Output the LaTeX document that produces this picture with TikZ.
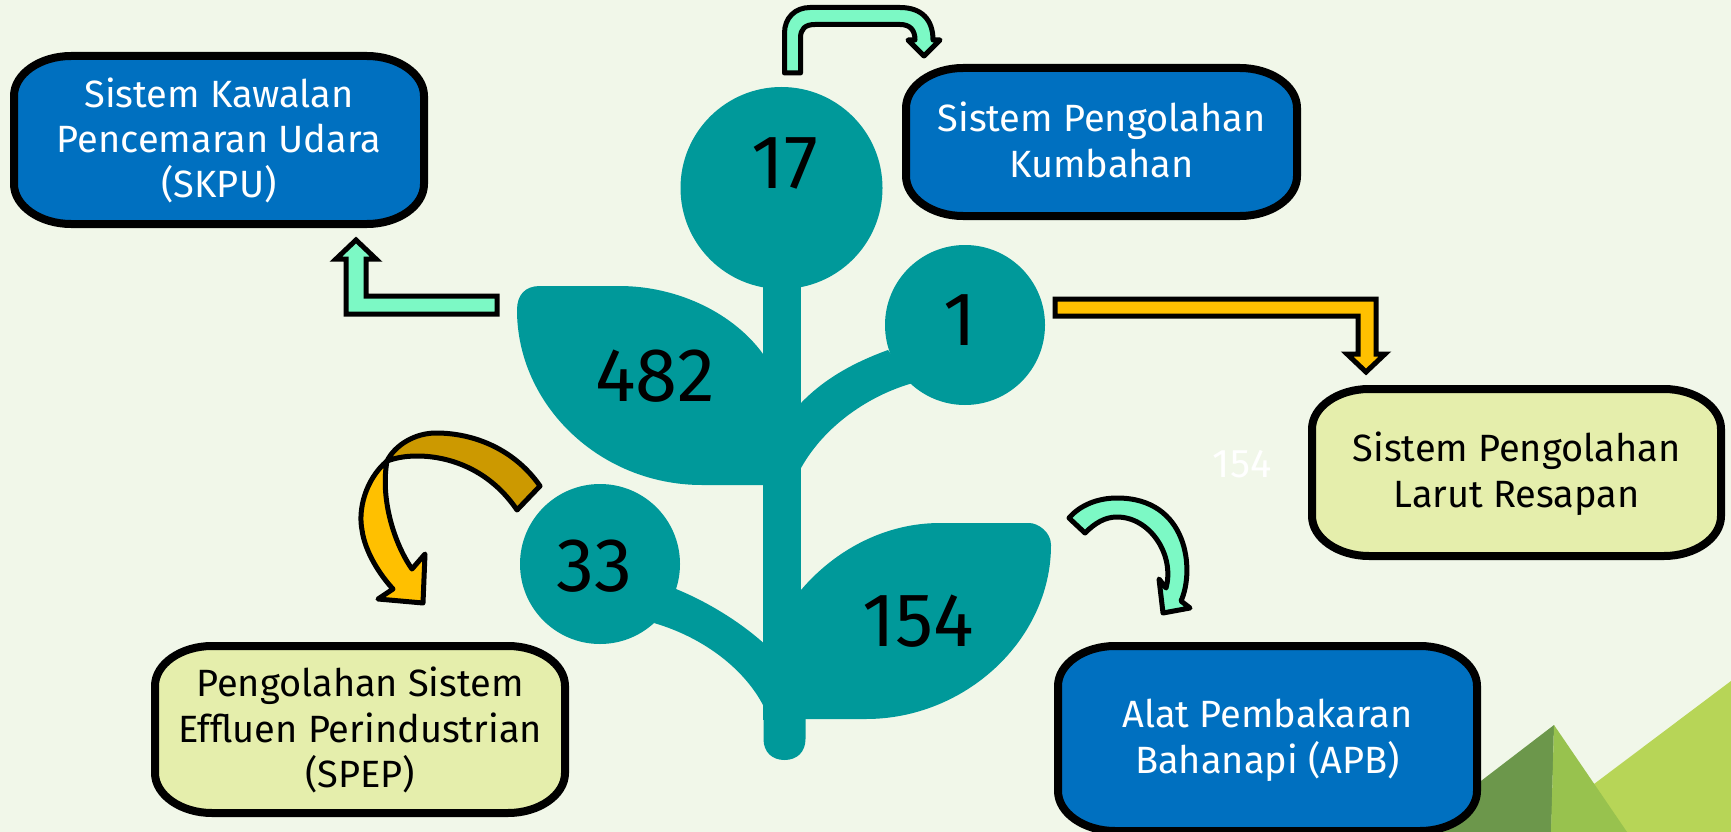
\documentclass[tikz,border=0pt]{standalone}
\usepackage{fontspec}
\setmainfont{Fira Sans}
\definecolor{bgc}{HTML}{F1F7E9}
\definecolor{blueb}{HTML}{0070C0}
\definecolor{yelb}{HTML}{E5EEAC}
\definecolor{tealc}{HTML}{00999A}
\definecolor{mintc}{HTML}{7CF9C5}
\definecolor{amberc}{HTML}{FFC000}
\definecolor{amberd}{HTML}{CC9900}
\definecolor{tridark}{HTML}{6C974B}
\definecolor{trimid}{HTML}{98C24E}
\definecolor{trilight}{HTML}{B7D557}
\tikzset{
  frame/.style={draw=black,line width=8pt},
  boxtext/.style={inner sep=0pt,outer sep=0pt,align=center,font=\fontsize{38}{45.3}\selectfont},
  plantpart/.style={fill=tealc,draw=none},
  numlabel/.style={font=\fontsize{76}{80}\selectfont,text=black,inner sep=0pt},
  ghostlabel/.style={font=\fontsize{40}{44}\selectfont,text=white,inner sep=0pt},
  blockarrow/.style={draw=black,line width=5pt,line join=miter},
  curvearrow/.style={draw=black,line width=5pt,line join=round},
}
\newcommand\topln{\rule{0pt}{32pt}}
\newcommand\botln{\rule[-7pt]{0pt}{7pt}}
% name, cx, cy, half width, half height, fill colour, text colour, text
\newcommand\ovalbox[8]{%
  \begin{scope}[shift={(#2,#3)}]
  \draw[frame,fill=#6] (-#4+57,-#5) -- (#4-57,-#5)
    .. controls (#4-26,-#5) and (#4,-#5+18) .. (#4,-#5+40) -- (#4,#5-40)
    .. controls (#4,#5-18) and (#4-26,#5) .. (#4-57,#5) -- (-#4+57,#5)
    .. controls (-#4+26,#5) and (-#4,#5-18) .. (-#4,#5-40) -- (-#4,-#5+40)
    .. controls (-#4,-#5+18) and (-#4+26,-#5) .. (-#4+57,-#5) -- cycle;
  \node[boxtext,text=#7] (#1) at (0,0) {#8};
  \end{scope}}
\begin{document}
\begin{tikzpicture}[x=1pt,y=-1pt]
\useasboundingbox (0,0) rectangle (1731,832);
\fill[bgc] (0,0) rectangle (1731,832);
% triangles
\fill[trilight] (1731,681) -- (1731,832) -- (1560,832) -- (1594,784) -- cycle;
\fill[tridark] (1554,725) -- (1400,843) -- (1551,843) -- cycle;
\fill[trimid] (1554,725) -- (1627,832) -- (1551,832) -- cycle;
% plant
\fill[plantpart] (763,270) rectangle (801,720);
\fill[plantpart] (763.5,700) -- (763.5,739) .. controls (763.5,752) and (772,760) .. (784.5,760) .. controls (797,760) and (805.5,752) .. (805.5,739) -- (805.5,700) -- cycle;
\fill[plantpart] (540,286) -- (619,286) .. controls (680,286) and (735,315) .. (763,354) -- (770,485) -- (702,485) .. controls (600,485) and (517,405) .. (517,310) .. controls (517,295) and (525,286) .. (540,286) -- cycle;
\fill[plantpart] (795,596) -- (801,590) .. controls (835,550) and (885,523) .. (940,523) -- (1029,523) .. controls (1038,523) and (1051,532) .. (1051,545) .. controls (1051,640) and (965,719) .. (866,719) -- (795,719) -- cycle;
\fill[plantpart] (795,410) -- (801,403) .. controls (825,378) and (855,362) .. (888,350) -- (913,383) .. controls (870,395) and (825,425) .. (801,468) -- (795,478) -- cycle;
\fill[plantpart] (676,589) .. controls (708,602) and (740,622) .. (763.5,643) -- (770,650) -- (770,715) -- (763.5,706) .. controls (745,670) and (705,638) .. (654,623) -- cycle;
\node[circle,fill=tealc,minimum size=202pt,inner sep=0pt] (c17) at (781.5,188) {};
\node[circle,fill=tealc,minimum size=160pt,inner sep=0pt] (c1) at (965,325) {};
\node[circle,fill=tealc,minimum size=160pt,inner sep=0pt] (c33) at (600,564) {};
% numbers
\node[numlabel] (n17) at (785,163) {17};
\node[numlabel] (n482) at (655,376) {482};
\node[numlabel] (n1) at (960,320) {1};
\node[numlabel] (n33) at (594,566) {33};
\node[numlabel] (n154) at (918,621) {154};
\node[ghostlabel] (ghost) at (1242,464) {154};
% boxes
\ovalbox{skpu}{219}{140}{205}{84}{blueb}{white}{\topln Sistem Kawalan\\Pencemaran Udara\\(SKPU)\botln}
\ovalbox{kumb}{1101.5}{142}{195.5}{74}{blueb}{white}{\topln Sistem Pengolahan\\Kumbahan\botln}
\ovalbox{larut}{1516.5}{472.5}{204.5}{83.5}{yelb}{black}{\topln Sistem Pengolahan\\Larut Resapan\botln}
\ovalbox{spep}{360}{729.5}{205}{83.5}{yelb}{black}{\topln Pengolahan Sistem\\Effluen Perindustrian\\(SPEP)\botln}
\ovalbox{apb}{1267.5}{738.5}{209.5}{92.5}{blueb}{white}{\topln Alat Pembakaran\\Bahanapi (APB)\botln}
% block arrows
\draw[blockarrow,fill=mintc] (497,296) -- (366,296) -- (366,259) -- (376,259) -- (356,240) -- (336,259) -- (346,259) -- (346,314) -- (497,314) -- cycle;
\draw[blockarrow,fill=amberc] (1055,299) -- (1376,299) -- (1376,354) -- (1385,354) -- (1366,372) -- (1347,354) -- (1358,354) -- (1358,316) -- (1055,316) -- cycle;
\draw[blockarrow,fill=mintc,line join=round] (784.5,73) -- (784.5,33) .. controls (784.5,18) and (795,7.5) .. (810,7.5) -- (900,7.5) .. controls (922,7.5) and (933,20) .. (933,40) -- (940,40) -- (924,56) -- (908,40) -- (915,40) .. controls (915,30) and (910,24.5) .. (900,24.5) -- (815,24.5) .. controls (805,24.5) and (800.5,29) .. (800.5,38) -- (800.5,73) -- cycle;
% curved arrows
\draw[curvearrow,fill=amberd] (540,486) -- (517,510) .. controls (490,470) and (450,456) .. (417,456) .. controls (405,456) and (395,458) .. (387,461) .. controls (395,445) and (415,433) .. (436,433) .. controls (475,433) and (515,450) .. (540,486) -- cycle;
\draw[curvearrow,fill=amberc] (387,461) .. controls (365,480) and (358,510) .. (362,530) .. controls (365,552) and (380,575) .. (393,589) -- (378,599) -- (423,603) -- (425,554) -- (412,569) .. controls (395,545) and (380,500) .. (387,461) -- cycle;
\draw[curvearrow,fill=mintc] (1069,518) -- (1085,533) .. controls (1095,523) and (1105,517) .. (1117,517) .. controls (1150,517) and (1175,555) .. (1166,588) -- (1159,579) -- (1163,613) -- (1190,608) -- (1181,601) .. controls (1195,570) and (1188,498) .. (1117,498) .. controls (1098,498) and (1080,505) .. (1069,518) -- cycle;
\end{tikzpicture}
\end{document}
